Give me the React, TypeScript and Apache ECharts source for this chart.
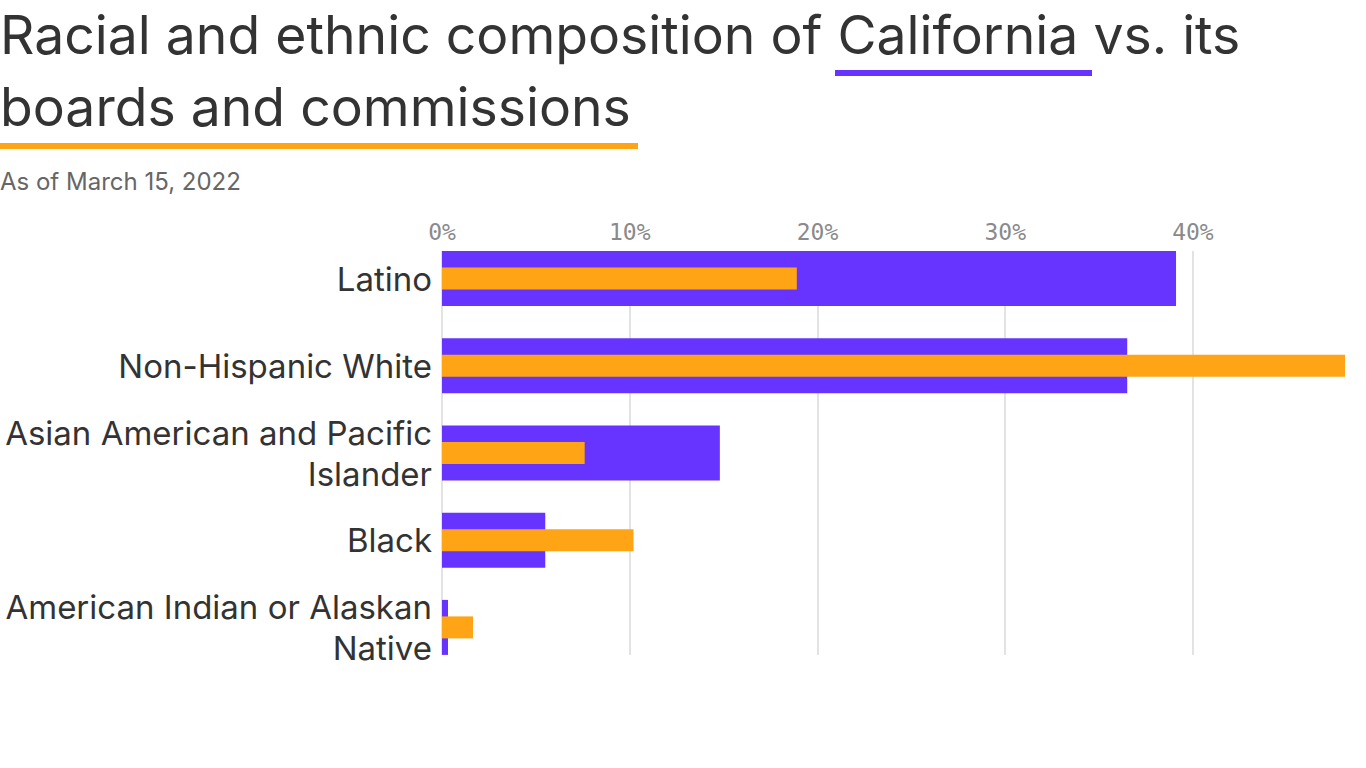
import React, { useEffect, useRef } from "react";
import * as echarts from "echarts";

const categories = [
  "Latino",
  "Non-Hispanic White",
  "Asian American and Pacific\nIslander",
  "Black",
  "American Indian or Alaskan\nNative",
];
const californiaShare = [39.1, 36.5, 14.8, 5.5, 0.32];
const boardsShare = [18.9, 48.1, 7.6, 10.2, 1.65];
const axisMax = 48.1;
const tickInterval = 10;

const titleLine1 = "Racial and ethnic composition of California vs. its";
const titleLine2 = "boards and commissions";
const subtitle = "As of March 15, 2022";

const PURPLE = "#6633ff";
const ORANGE = "#ffa515";
const FONT = "Inter";

export default function App() {
  const ref = useRef<HTMLDivElement>(null);
  useEffect(() => {
    if (!ref.current) return;
    const chart = echarts.init(ref.current, undefined, { renderer: "svg" });
    const hiddenCat = {
      gridIndex: 0,
      type: "category",
      data: categories,
      inverse: true,
      show: false,
    };
    chart.setOption({
      animation: false,
      backgroundColor: "#ffffff",
      grid: [
        { left: 442, right: 21, top: 235, bottom: 97, containLabel: false },
        { left: 442, right: 21, top: 251, bottom: 113, containLabel: false },
      ],
      xAxis: [
        {
          gridIndex: 0,
          type: "value",
          min: 0,
          max: axisMax,
          show: false,
        },
        {
          gridIndex: 1,
          type: "value",
          position: "top",
          min: 0,
          max: axisMax,
          interval: tickInterval,
          axisLine: { show: false },
          axisTick: { show: false },
          axisLabel: {
            showMaxLabel: false,
            formatter: (v: number) => `${v}%`,
            fontFamily: "DejaVu Sans Mono",
            fontSize: 23,
            color: "#8a8a8a",
            margin: 8,
          },
          splitLine: {
            show: true,
            showMaxLine: false,
            lineStyle: { color: "#e3e3e3", width: 2 },
          },
        },
      ],
      yAxis: [
        {
          gridIndex: 0,
          type: "category",
          data: categories,
          inverse: true,
          axisLine: { show: false },
          axisTick: { show: false },
          splitLine: { show: false },
          axisLabel: {
            fontFamily: FONT,
            fontSize: 33,
            color: "#333333",
            lineHeight: 41,
            margin: 10,
            align: "right",
          },
        },
        {
          gridIndex: 1,
          type: "value",
          min: 0,
          max: 1,
          show: false,
        },
        hiddenCat,
      ],
      series: [
        {
          name: "California",
          type: "bar",
          xAxisIndex: 0,
          yAxisIndex: 0,
          data: californiaShare,
          barWidth: 55,
          itemStyle: { color: PURPLE },
          z: 3,
        },
        {
          name: "Boards and commissions",
          type: "bar",
          xAxisIndex: 0,
          yAxisIndex: 2,
          data: boardsShare,
          barWidth: 22,
          itemStyle: { color: ORANGE },
          z: 4,
        },
      ],
      graphic: [
        {
          type: "text",
          left: 0,
          top: 7,
          style: {
            text: titleLine1,
            fontFamily: FONT,
            fontSize: 53.5,
            fill: "#333333",
          },
        },
        {
          type: "text",
          left: 0,
          top: 79,
          style: {
            text: titleLine2,
            fontFamily: FONT,
            fontSize: 53.5,
            fill: "#333333",
          },
        },
        {
          type: "rect",
          shape: { x: 835, y: 70, width: 257, height: 6 },
          style: { fill: PURPLE },
        },
        {
          type: "rect",
          shape: { x: 0, y: 143, width: 638, height: 6 },
          style: { fill: ORANGE },
        },
        {
          type: "text",
          left: 0,
          top: 169,
          style: {
            text: subtitle,
            fontFamily: FONT,
            fontSize: 24,
            fill: "#666666",
          },
        },
      ],
    });
    return () => chart.dispose();
  }, []);
  return (
    <div
      ref={ref}
      style={{ position: "absolute", left: 0, top: 0, width: 1366, height: 768 }}
    />
  );
}
